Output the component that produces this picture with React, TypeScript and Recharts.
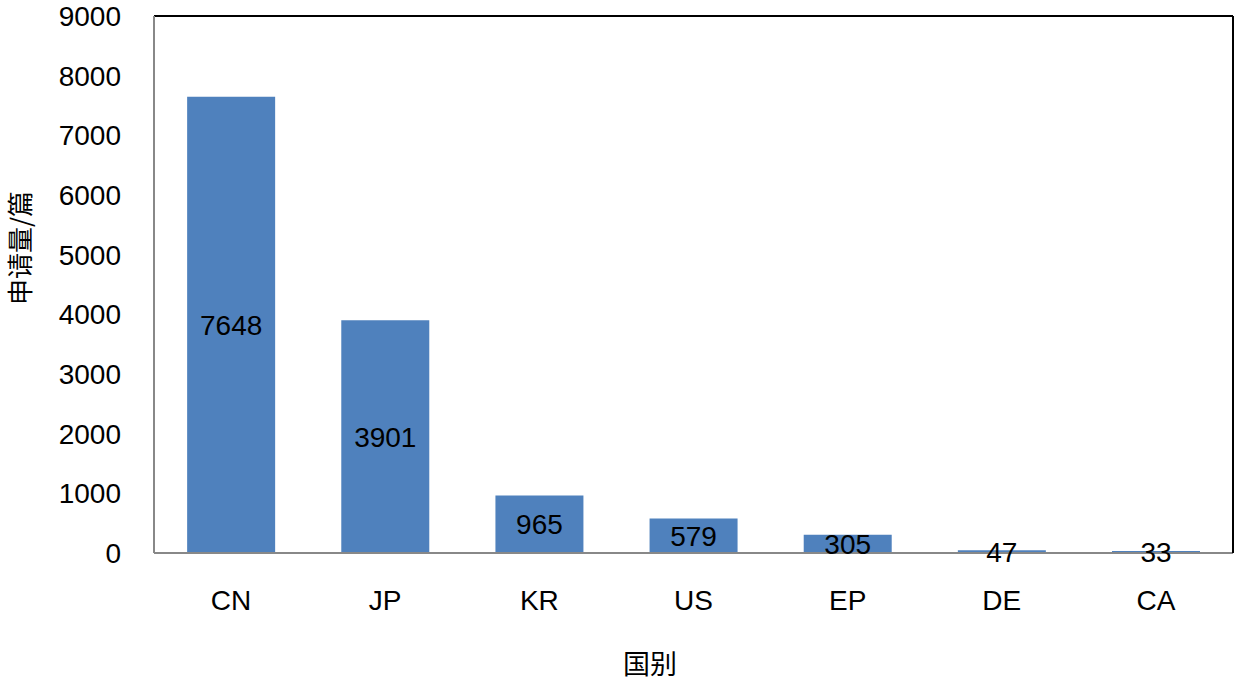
import { BarChart, Bar, XAxis, YAxis, LabelList, ReferenceLine } from 'recharts'

const countries = ['CN', 'JP', 'KR', 'US', 'EP', 'DE', 'CA']
const counts = [7648, 3901, 965, 579, 305, 47, 33]
const yTicks = [0, 1000, 2000, 3000, 4000, 5000, 6000, 7000, 8000, 9000]

const data = countries.map((name, i) => ({ name, value: counts[i] }))

const numFont = '"Liberation Sans", Arial, sans-serif'
const cjkFont = '"Noto Sans CJK SC", sans-serif'

export default function App() {
  return (
    <div style={{ position: 'absolute', left: 0, top: 0, background: '#fff' }}>
      <BarChart
        width={1235}
        height={687}
        data={data}
        margin={{ top: 16, right: 1, left: 0, bottom: 0 }}
        barCategoryGap="21.5%"
      >
        <XAxis
          dataKey="name"
          xAxisId="bottom"
          height={134}
          axisLine={{ stroke: '#888888', strokeWidth: 2 }}
          tickLine={false}
          tickSize={0}
          tickMargin={37}
          tick={{ fill: '#000', fontSize: 28, fontFamily: numFont }}
          label={{
            content: () => (
              <text x={650} y={662} textAnchor="middle" dominantBaseline="central"
                fontSize={27} fontFamily={cjkFont} fill="#000">国别</text>
            ),
          }}
        />
        <YAxis
          yAxisId="left"
          width={154}
          domain={[0, 9000]}
          ticks={yTicks}
          interval={0}
          axisLine={{ stroke: '#888888', strokeWidth: 2 }}
          tickLine={false}
          tickSize={0}
          tickMargin={33}
          tick={{ fill: '#000', fontSize: 28, fontFamily: numFont }}
          label={{
            content: () => (
              <text x={18} y={248} transform="rotate(-90 18 248)" textAnchor="middle"
                dominantBaseline="central" fontSize={26} fontFamily={cjkFont} fill="#000">申请量/篇</text>
            ),
          }}
        />
        <YAxis yAxisId="right" orientation="right" width={1} domain={[0, 9000]}
          axisLine={{ stroke: '#000', strokeWidth: 2 }} tick={false} tickLine={false} />
        <ReferenceLine y={9000} xAxisId="bottom" yAxisId="left" stroke="#000" strokeWidth={2} ifOverflow="visible" />
        <Bar dataKey="value" xAxisId="bottom" yAxisId="left" fill="#4F81BD" isAnimationActive={false}>
          <LabelList dataKey="value" position="center" fill="#000" fontSize={28} fontFamily={numFont} />
        </Bar>
      </BarChart>
    </div>
  )
}
